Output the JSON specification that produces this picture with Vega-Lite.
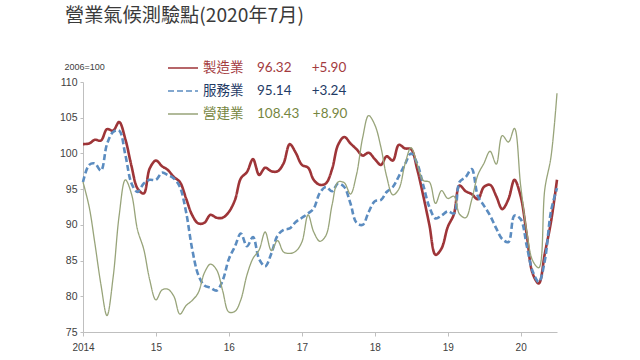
{
  "$schema": "https://vega.github.io/schema/vega-lite/v6.json",
  "width": 474,
  "height": 250,
  "autosize": {"type": "none"},
  "padding": {"left": 83, "top": 82, "right": 83, "bottom": 28},
  "background": "white",
  "config": {"view": {"stroke": null}},
  "title": {
    "text": "營業氣候測驗點(2020年7月)",
    "anchor": "start",
    "frame": "group",
    "dx": -18,
    "offset": 26,
    "font": "Noto Sans CJK TC",
    "fontSize": 19.2,
    "fontWeight": "normal",
    "color": "#3a3a3a"
  },
  "data": {
    "format": {"parse": {"d": "date:'%Y-%m'"}},
    "values": [
      {"d":"2014-01","製造業":101.3,"服務業":96.0,"營建業":96.0},
      {"d":"2014-02","製造業":101.4,"服務業":98.4,"營建業":92.5},
      {"d":"2014-03","製造業":101.9,"服務業":98.6,"營建業":87.5},
      {"d":"2014-04","製造業":101.8,"服務業":97.6,"營建業":81.6},
      {"d":"2014-05","製造業":103.4,"服務業":101.3,"營建業":77.3},
      {"d":"2014-06","製造業":103.2,"服務業":103.0,"營建業":82.7},
      {"d":"2014-07","製造業":104.4,"服務業":103.2,"營建業":91.3},
      {"d":"2014-08","製造業":102.0,"服務業":99.8,"營建業":96.3},
      {"d":"2014-09","製造業":98.2,"服務業":95.8,"營建業":94.3},
      {"d":"2014-10","製造業":95.1,"服務業":94.6,"營建業":89.3},
      {"d":"2014-11","製造業":94.4,"服務業":95.8,"營建業":86.6},
      {"d":"2014-12","製造業":97.9,"服務業":96.3,"營建業":82.3},
      {"d":"2015-01","製造業":99.0,"服務業":96.3,"營建業":79.5},
      {"d":"2015-02","製造業":98.2,"服務業":97.3,"營建業":80.9},
      {"d":"2015-03","製造業":97.7,"服務業":97.0,"營建業":81.0},
      {"d":"2015-04","製造業":96.7,"服務業":96.5,"營建業":80.0},
      {"d":"2015-05","製造業":96.0,"服務業":95.3,"營建業":77.5},
      {"d":"2015-06","製造業":93.7,"服務業":91.8,"營建業":78.7},
      {"d":"2015-07","製造業":91.4,"服務業":86.7,"營建業":79.4},
      {"d":"2015-08","製造業":90.2,"服務業":83.0,"營建業":80.5},
      {"d":"2015-09","製造業":90.3,"服務業":81.5,"營建業":83.3},
      {"d":"2015-10","製造業":91.4,"服務業":81.2,"營建業":84.5},
      {"d":"2015-11","製造業":91.0,"服務業":80.8,"營建業":83.7},
      {"d":"2015-12","製造業":91.0,"服務業":82.2,"營建業":80.8},
      {"d":"2016-01","製造業":91.8,"服務業":85.2,"營建業":77.8},
      {"d":"2016-02","製造業":93.5,"服務業":87.0,"營建業":77.9},
      {"d":"2016-03","製造業":96.5,"服務業":88.8,"營建業":79.5},
      {"d":"2016-04","製造業":97.4,"服務業":87.0,"營建業":83.0},
      {"d":"2016-05","製造業":99.2,"服務業":88.3,"營建業":85.3},
      {"d":"2016-06","製造業":97.0,"服務業":85.2,"營建業":86.5},
      {"d":"2016-07","製造業":98.0,"服務業":84.2,"營建業":89.0},
      {"d":"2016-08","製造業":97.5,"服務業":86.0,"營建業":86.4},
      {"d":"2016-09","製造業":97.5,"服務業":88.5,"營建業":87.8},
      {"d":"2016-10","製造業":98.6,"服務業":89.3,"營建業":86.2},
      {"d":"2016-11","製造業":101.3,"服務業":89.5,"營建業":86.0},
      {"d":"2016-12","製造業":100.1,"服務業":90.4,"營建業":86.3},
      {"d":"2017-01","製造業":98.4,"服務業":91.0,"營建業":87.6},
      {"d":"2017-02","製造業":98.0,"服務業":91.6,"營建業":91.4},
      {"d":"2017-03","製造業":96.3,"服務業":92.3,"營建業":89.0},
      {"d":"2017-04","製造業":95.6,"服務業":94.5,"營建業":87.7},
      {"d":"2017-05","製造業":95.8,"服務業":95.3,"營建業":88.5},
      {"d":"2017-06","製造業":97.8,"服務業":94.7,"營建業":92.8},
      {"d":"2017-07","製造業":101.2,"服務業":95.8,"營建業":96.0},
      {"d":"2017-08","製造業":102.3,"服務業":95.3,"營建業":95.9},
      {"d":"2017-09","製造業":101.4,"服務業":93.0,"營建業":94.3},
      {"d":"2017-10","製造業":100.6,"服務業":90.3,"營建業":97.0},
      {"d":"2017-11","製造業":99.7,"服務業":90.0,"營建業":102.2},
      {"d":"2017-12","製造業":100.1,"服務業":91.8,"營建業":105.3},
      {"d":"2018-01","製造業":99.2,"服務業":93.3,"營建業":104.0},
      {"d":"2018-02","製造業":98.4,"服務業":93.5,"營建業":100.8},
      {"d":"2018-03","製造業":99.6,"服務業":94.6,"營建業":96.8},
      {"d":"2018-04","製造業":99.0,"服務業":95.3,"營建業":94.2},
      {"d":"2018-05","製造業":101.2,"服務業":96.8,"營建業":95.0},
      {"d":"2018-06","製造業":100.7,"服務業":98.5,"營建業":98.5},
      {"d":"2018-07","製造業":100.6,"服務業":100.0,"營建業":100.8},
      {"d":"2018-08","製造業":97.8,"服務業":98.6,"營建業":98.5},
      {"d":"2018-09","製造業":94.0,"服務業":95.5,"營建業":96.2},
      {"d":"2018-10","製造業":90.0,"服務業":92.5,"營建業":96.0},
      {"d":"2018-11","製造業":85.8,"服務業":90.9,"營建業":93.0},
      {"d":"2018-12","製造業":86.7,"服務業":91.3,"營建業":94.8},
      {"d":"2019-01","製造業":89.7,"服務業":91.9,"營建業":93.7},
      {"d":"2019-02","製造業":91.5,"服務業":91.6,"營建業":94.0},
      {"d":"2019-03","製造業":95.5,"服務業":96.0,"營建業":91.5},
      {"d":"2019-04","製造業":94.7,"服務業":96.7,"營建業":91.0},
      {"d":"2019-05","製造業":94.3,"服務業":97.8,"營建業":93.5},
      {"d":"2019-06","製造業":93.6,"服務業":94.0,"營建業":97.0},
      {"d":"2019-07","製造業":95.3,"服務業":92.7,"營建業":98.6},
      {"d":"2019-08","製造業":95.6,"服務業":91.3,"營建業":100.3},
      {"d":"2019-09","製造業":94.0,"服務業":89.5,"營建業":98.5},
      {"d":"2019-10","製造業":92.2,"服務業":88.0,"營建業":102.5},
      {"d":"2019-11","製造業":93.6,"服務業":87.6,"營建業":101.6},
      {"d":"2019-12","製造業":96.3,"服務業":91.3,"營建業":103.5},
      {"d":"2020-01","製造業":94.0,"服務業":90.8,"營建業":95.5},
      {"d":"2020-02","製造業":88.5,"服務業":87.0,"營建業":89.0},
      {"d":"2020-03","製造業":83.2,"服務業":83.5,"營建業":85.0},
      {"d":"2020-04","製造業":81.8,"服務業":82.0,"營建業":84.0},
      {"d":"2020-05","製造業":86.0,"服務業":85.0,"營建業":95.0},
      {"d":"2020-06","製造業":90.42,"服務業":91.9,"營建業":99.53},
      {"d":"2020-07","製造業":96.32,"服務業":95.14,"營建業":108.43}
    ]
  },
  "transform": [{"fold": ["製造業", "服務業", "營建業"], "as": ["key", "val"]}],
  "mark": {"type": "line", "interpolate": "catmull-rom", "strokeCap": "butt"},
  "encoding": {
    "x": {
      "field": "d",
      "type": "temporal",
      "scale": {"domain": [{"year": 2014, "month": 1, "date": 1}, {"year": 2020, "month": 7, "date": 1}]},
      "axis": {
        "title": null,
        "tickCount": {"interval": "year", "step": 1},
        "labelExpr": "year(datum.value) == 2014 ? '2014' : timeFormat(datum.value, '%y')",
        "grid": false,
        "domainColor": "#BFBFBF",
        "tickColor": "#BFBFBF",
        "tickSize": 4,
        "labelPadding": 6,
        "labelFont": "Liberation Sans",
        "labelFontSize": 10,
        "labelColor": "#404040",
        "labelFlush": false
      }
    },
    "y": {
      "field": "val",
      "type": "quantitative",
      "scale": {"domain": [75, 110], "nice": false, "zero": false},
      "axis": {
        "values": [75, 80, 85, 90, 95, 100, 105, 110],
        "grid": false,
        "domainColor": "#BFBFBF",
        "tickColor": "#BFBFBF",
        "tickSize": 3,
        "labelPadding": 3,
        "labelFont": "Liberation Sans",
        "labelFontSize": 10.5,
        "labelColor": "#404040",
        "title": "2006=100",
        "titleAngle": 0,
        "titleX": -19,
        "titleY": -11,
        "titleAlign": "left",
        "titleBaseline": "bottom",
        "titleFont": "Liberation Sans",
        "titleFontSize": 9,
        "titleFontWeight": "normal",
        "titleColor": "#404040"
      }
    },
    "color": {
      "field": "key",
      "type": "nominal",
      "scale": {"domain": ["製造業", "服務業", "營建業"], "range": ["#9E3538", "#5B8CC0", "#98A47A"]},
      "legend": {
        "orient": "none",
        "legendX": 84,
        "legendY": -30,
        "title": null,
        "symbolType": "stroke",
        "symbolSize": 900,
        "symbolStrokeWidth": 1.6,
        "labelFont": "Lato, Noto Sans CJK TC",
        "labelFontSize": 13.5,
        "labelOffset": 4,
        "rowPadding": -14.5,
        "labelLimit": 300,
        "labelExpr": "datum.value == '製造業' ? '製造業\u2002\u200296.32\u2002\u2002\u2002+5.90' : datum.value == '服務業' ? '服務業\u2002\u200295.14\u2002\u2002\u2002+3.24' : '營建業\u2002\u2002108.43\u2002\u2002+8.90'",
        "encode": {
          "labels": {
            "update": {
              "fill": {"signal": "datum.value == '製造業' ? '#A33A3E' : datum.value == '服務業' ? '#1F3B66' : '#76863F'"}
            }
          }
        }
      }
    },
    "strokeDash": {
      "field": "key",
      "type": "nominal",
      "scale": {"domain": ["製造業", "服務業", "營建業"], "range": [[1, 0], [6, 3], [1, 0]]}
    },
    "strokeWidth": {
      "condition": {"test": "datum.key == '營建業'", "value": 1.3},
      "value": 2.6
    }
  }
}
